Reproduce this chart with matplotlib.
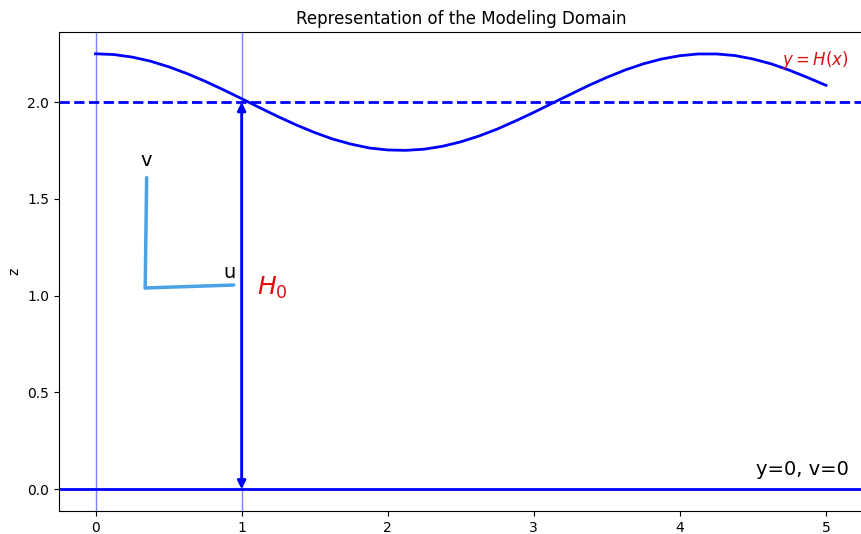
import matplotlib
matplotlib.use("Agg")
import matplotlib.pyplot as plt

# surface profile H(x)
x_surf = [0.0, 0.125, 0.25, 0.375, 0.5, 0.625, 0.75, 0.875, 1.0, 1.125, 1.25,
          1.375, 1.5, 1.625, 1.75, 1.875, 2.0, 2.125, 2.25, 2.375, 2.5,
          2.625, 2.75, 2.875, 3.0, 3.125, 3.25, 3.375, 3.5, 3.625, 3.75,
          3.875, 4.0, 4.125, 4.25, 4.375, 4.5, 4.625, 4.75, 4.875, 5.0]
h_surf = [2.250, 2.246, 2.233, 2.212, 2.183, 2.148, 2.108, 2.064, 2.018, 1.971, 1.925,
          1.882, 1.843, 1.809, 1.783, 1.763, 1.753, 1.751, 1.757, 1.772, 1.795,
          1.825, 1.861, 1.903, 1.947, 1.994, 2.040, 2.086, 2.128, 2.166, 2.198,
          2.223, 2.240, 2.249, 2.249, 2.241, 2.223, 2.198, 2.165, 2.127, 2.087]

H0 = 2.0
x_marks = [0, 1]
u_vec_x = [0.34, 0.945]
u_vec_y = [1.04, 1.055]
v_vec_x = [0.34, 0.35]
v_vec_y = [1.04, 1.61]

fig = plt.figure(figsize=(8.61, 5.34), dpi=100)
ax = fig.add_axes([59/861, 23/534, 803.5/861, 479/534])

ax.plot(x_surf, h_surf, color="blue", lw=2, solid_joinstyle="round")
ax.axhline(H0, color="blue", lw=2, ls="--")
ax.axhline(0, color="blue", lw=2)
for xm in x_marks:
    ax.axvline(xm, color="blue", lw=1, alpha=0.5)

ax.annotate("", xy=(1, H0), xytext=(1, 0),
            arrowprops=dict(arrowstyle="<|-|>", color="blue", lw=2,
                            mutation_scale=12, shrinkA=0, shrinkB=0))

ax.plot(u_vec_x, u_vec_y, color="#4aa3e6", lw=2.5, solid_capstyle="round")
ax.plot(v_vec_x, v_vec_y, color="#4aa3e6", lw=2.5, solid_capstyle="round")
ax.text(0.92, 1.12, "u", fontsize=14, ha="center", va="center")
ax.text(0.345, 1.70, "v", fontsize=14, ha="center", va="center")

ax.text(1.21, 1.04, r"$H_0$", fontsize=18, color="#e01010", ha="center", va="center")
ax.text(4.93, 2.22, r"$y = H(x)$", fontsize=12, color="#e01010", ha="center", va="center")
ax.text(4.84, 0.10, "y=0, v=0", fontsize=14, ha="center", va="center")

ax.set_xlim(-0.25, 5.25)
ax.set_ylim(-0.1125, 2.3625)
ax.set_ylabel("z")
ax.set_title("Representation of the Modeling Domain")

fig.savefig("out.png", dpi=100)
